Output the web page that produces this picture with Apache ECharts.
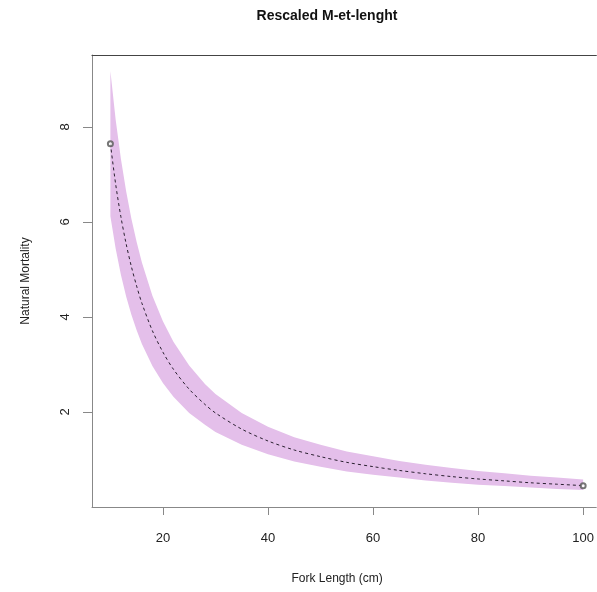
<!DOCTYPE html>
<html>
<head>
<meta charset="utf-8">
<script src="https://cdn.jsdelivr.net/npm/echarts@6/dist/echarts.min.js"></script>
<style>
html,body{margin:0;padding:0;background:#fff;}
#chart{width:597px;height:592px;}
</style>
</head>
<body>
<div id="chart"></div>
<script>
// Fork length (cm)
const lengths   = [10, 11, 12, 13, 14, 15, 16, 18, 20, 22, 25, 28, 30, 35, 40, 45, 50, 55, 60, 65, 70, 75, 80, 85, 90, 95, 100];
// Rescaled natural mortality (median)
const mortality = [7.65, 6.80, 6.11, 5.54, 5.06, 4.65, 4.29, 3.71, 3.26, 2.90, 2.48, 2.16, 1.98, 1.64, 1.39, 1.20, 1.06, 0.94, 0.85, 0.77, 0.70, 0.64, 0.59, 0.55, 0.51, 0.48, 0.45];
// Upper and lower band limits
const upper = [9.18, 8.16, 7.33, 6.65, 6.07, 5.58, 5.15, 4.45, 3.91, 3.48, 2.98, 2.59, 2.38, 1.98, 1.69, 1.47, 1.31, 1.17, 1.07, 0.97, 0.89, 0.82, 0.76, 0.71, 0.66, 0.62, 0.58];
const lower = [6.12, 5.44, 4.89, 4.43, 4.05, 3.72, 3.43, 2.97, 2.61, 2.32, 1.98, 1.73, 1.58, 1.31, 1.11, 0.96, 0.85, 0.75, 0.68, 0.62, 0.56, 0.51, 0.47, 0.44, 0.41, 0.38, 0.36];
const xTicks = [20, 40, 60, 80, 100];
const yTicks = [2, 4, 6, 8];

const font = '"Liberation Sans", Arial, sans-serif';
const chart = echarts.init(document.getElementById('chart'), null, {renderer: 'canvas'});

const meanData = lengths.map((x, i) => [x, mortality[i]]);
const bandData = lengths.map((x, i) => [x, lower[i], upper[i]]);
const n = lengths.length - 1;
const endPoints = [[lengths[0], mortality[0]], [lengths[n], mortality[n]]];

function renderBand(params, api) {
  if (params.dataIndex !== 0) return null;
  const pts = [];
  for (let i = 0; i < lengths.length; i++) pts.push(api.coord([lengths[i], upper[i]]));
  for (let i = lengths.length - 1; i >= 0; i--) pts.push(api.coord([lengths[i], lower[i]]));
  return {
    type: 'polygon',
    shape: {points: pts},
    style: {fill: '#E4BFEA', stroke: null},
    silent: true
  };
}

chart.setOption({
  animation: false,
  backgroundColor: '#fff',
  title: {
    text: 'Rescaled M-et-lenght',
    left: 322, top: 4, textAlign: 'center',
    textStyle: {fontFamily: font, fontSize: 14, fontWeight: 'bold', color: '#111'}
  },
  grid: {left: 92, right: 0, top: 55, bottom: 85, containLabel: false},
  xAxis: [{
    type: 'value', min: 6.5, max: 102.5, position: 'bottom',
    name: 'Fork Length (cm)', nameLocation: 'middle', nameGap: 66,
    nameTextStyle: {fontFamily: font, fontSize: 12, color: '#222', padding: [0, 14, 0, 0]},
    axisLine: {show: true, onZero: false, lineStyle: {color: '#888', width: 1}},
    axisTick: {show: true, inside: false, length: 8, lineStyle: {color: '#888'}, customValues: xTicks},
    axisLabel: {fontFamily: font, fontSize: 13, color: '#222', margin: 25, customValues: xTicks},
    splitLine: {show: false}
  }, {
    type: 'value', min: 6.5, max: 102.5, position: 'top',
    axisLine: {show: true, onZero: false, lineStyle: {color: '#444', width: 1.2}},
    axisTick: {show: false}, axisLabel: {show: false}, splitLine: {show: false}
  }],
  yAxis: {
    type: 'value', min: 0, max: 9.516,
    name: 'Natural Mortality', nameLocation: 'middle', nameGap: 60, nameRotate: 90,
    nameTextStyle: {fontFamily: font, fontSize: 12, color: '#222'},
    axisLine: {show: true, onZero: false, lineStyle: {color: '#888', width: 1}},
    axisTick: {show: true, inside: false, length: 9, lineStyle: {color: '#888'}, customValues: yTicks},
    axisLabel: {fontFamily: font, fontSize: 13, color: '#222', margin: 20, rotate: 90, customValues: yTicks},
    splitLine: {show: false}
  },
  series: [
    {
      type: 'custom', xAxisIndex: 0, yAxisIndex: 0, data: bandData,
      encode: {x: 0, y: [1, 2]}, renderItem: renderBand, silent: true, z: 1
    },
    {
      type: 'line', xAxisIndex: 0, yAxisIndex: 0, data: meanData, symbol: 'none', smooth: 0.3,
      lineStyle: {color: '#2a2030', width: 1, type: [3, 3]}, z: 3
    },
    {
      type: 'scatter', xAxisIndex: 0, yAxisIndex: 0, data: endPoints, symbol: 'emptyCircle', symbolSize: 5,
      itemStyle: {color: '#555', borderWidth: 0.8}, z: 4
    }
  ]
});
</script>
</body>
</html>
